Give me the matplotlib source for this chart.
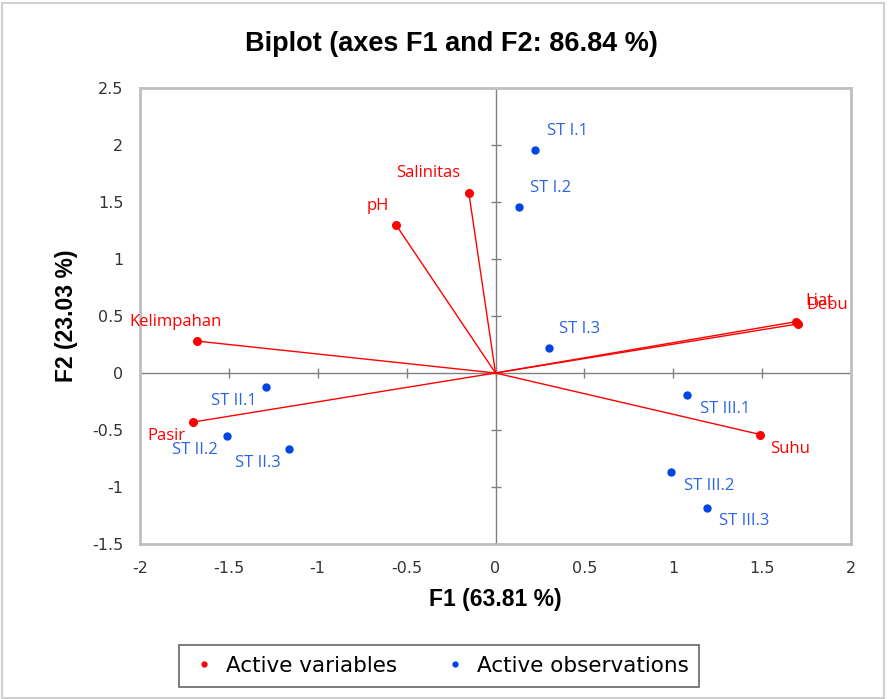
import matplotlib.pyplot as plt
from matplotlib.lines import Line2D
from matplotlib.patches import Rectangle

# Variables (red)
var_names = ["Kelimpahan", "Salinitas", "pH", "Liat", "Debu", "Pasir", "Suhu"]
var_f1 = [-1.68, -0.15, -0.56, 1.69, 1.70, -1.70, 1.49]
var_f2 = [0.28, 1.58, 1.30, 0.45, 0.43, -0.43, -0.54]

# Observations (blue)
obs_names = ["ST I.1", "ST I.2", "ST I.3", "ST II.1", "ST II.2", "ST II.3",
             "ST III.1", "ST III.2", "ST III.3"]
obs_f1 = [0.22, 0.13, 0.30, -1.29, -1.51, -1.16, 1.08, 0.99, 1.19]
obs_f2 = [1.96, 1.46, 0.22, -0.12, -0.55, -0.67, -0.19, -0.87, -1.18]

x_ticks = [-2, -1.5, -1, -0.5, 0, 0.5, 1, 1.5, 2]
y_ticks = [-1.5, -1, -0.5, 0, 0.5, 1, 1.5, 2, 2.5]

# label offsets in pixels (dx, dy)
var_off = [(-21, 19), (-41, 20), (-18, 19), (23, 21), (30, 19), (-27, -14), (30, -14)]
obs_off = [(33, 19), (32, 19), (31, 19), (-32, -14), (-32, -14), (-31, -14),
           (38, -14), (38, -14), (37, -13)]

red = "#FF0000"
blue = "#0046E6"
lblue = "#2B64E8"

fig = plt.figure(figsize=(8.88, 6.99), dpi=100)
ax = fig.add_axes([140 / 888, 1 - 544 / 699, 711 / 888, 456 / 699])

ax.axhline(0, color="#808080", lw=1, zorder=1)
ax.axvline(0, color="#808080", lw=1, zorder=1)
# small ticks on the crossing axes
ax.plot(x_ticks, [0] * len(x_ticks), ls="none", marker="|", ms=7, color="#808080", zorder=1)
ax.plot([0] * len(y_ticks), y_ticks, ls="none", marker="_", ms=7, color="#808080", zorder=1)

for x, y in zip(var_f1, var_f2):
    ax.plot([0, x], [0, y], color=red, lw=1, zorder=2)
ax.scatter(var_f1, var_f2, s=30, color=red, zorder=3)
ax.scatter(obs_f1, obs_f2, s=25, color=blue, zorder=3)

for name, x, y, (dx, dy) in zip(var_names, var_f1, var_f2, var_off):
    ax.annotate(name, (x, y), xytext=(dx, dy), textcoords="offset pixels",
                ha="center", va="center", color=red, fontsize=12, family="Open Sans")
for name, x, y, (dx, dy) in zip(obs_names, obs_f1, obs_f2, obs_off):
    ax.annotate(name, (x, y), xytext=(dx, dy), textcoords="offset pixels",
                ha="center", va="center", color=lblue, fontsize=12, family="Open Sans")

ax.set_xlim(-2, 2)
ax.set_ylim(-1.5, 2.5)
ax.set_xticks(x_ticks)
ax.set_yticks(y_ticks)
ax.set_xticklabels([f"{t:g}" for t in x_ticks])
ax.set_yticklabels([f"{t:g}" for t in y_ticks])
ax.tick_params(length=0, labelsize=11.5, colors="#333333", pad=12)
for s in ax.spines.values():
    s.set_color("#BFBFBF")
    s.set_linewidth(2)

ax.set_xlabel("F1 (63.81 %)", fontsize=16.5, fontweight="bold",
              family="Liberation Sans", labelpad=9)
ax.set_ylabel("F2 (23.03 %)", fontsize=16.5, fontweight="bold",
              family="Liberation Sans", labelpad=10)
fig.text(451 / 888, 1 - 44 / 699, "Biplot (axes F1 and F2: 86.84 %)", ha="center",
         va="center", fontsize=19.5, fontweight="bold", family="Liberation Sans")

handles = [Line2D([], [], ls="none", marker="o", ms=3.5, color=red),
           Line2D([], [], ls="none", marker="o", ms=3.5, color=blue)]
leg = fig.legend(handles, ["Active variables", "Active observations"], ncol=2,
                 loc="center", bbox_to_anchor=(439 / 888, 1 - 666 / 699),
                 fontsize=15.5, fancybox=False, handletextpad=0.3, columnspacing=2.0,
                 borderpad=0.5, handlelength=1.4)
leg.get_frame().set_edgecolor("#404040")
leg.get_frame().set_linewidth(1.2)

fig.patches.append(Rectangle((0.002, 0.002), 0.994, 0.994, transform=fig.transFigure,
                             fill=False, edgecolor="#D0D0D0", lw=1.5))

fig.savefig("out.png", dpi=100)
